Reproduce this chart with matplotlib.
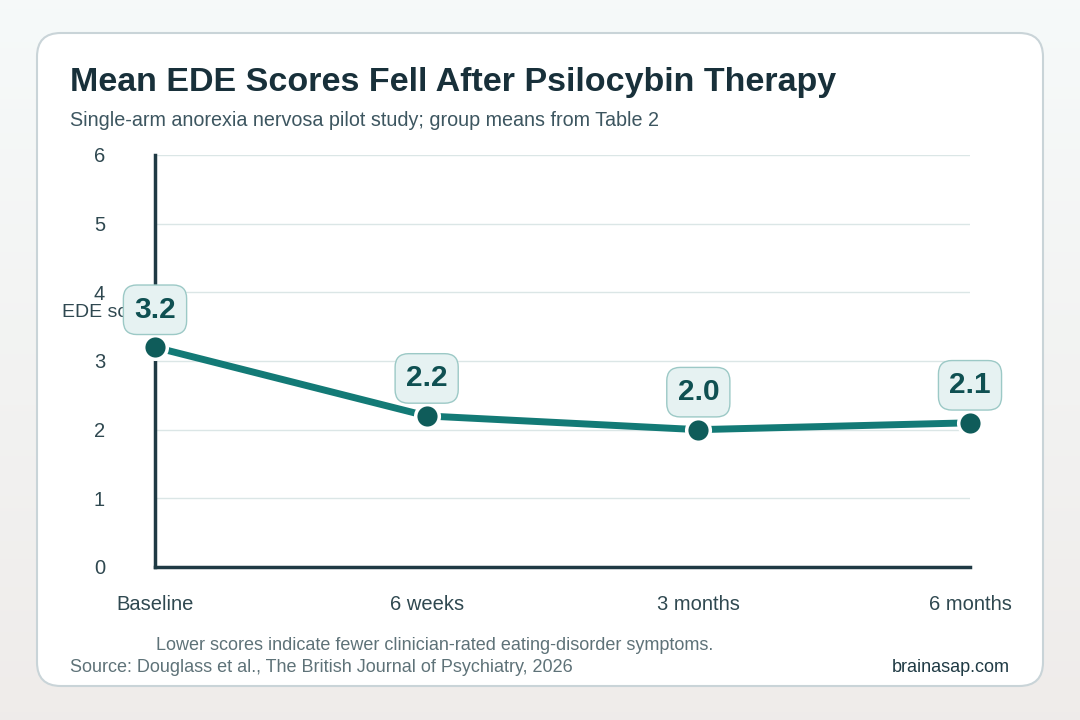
import numpy as np
import matplotlib.pyplot as plt
from matplotlib.patches import FancyBboxPatch

# Datos
etapas = ['Baseline', '6 weeks', '3 months', '6 months']
puntajes = [3.2, 2.2, 2.0, 2.1]
etiquetas = ['3.2', '2.2', '2.0', '2.1']
ticksY = [0, 1, 2, 3, 4, 5, 6]

plt.rcParams['font.family'] = ['Liberation Sans', 'DejaVu Sans']

fig = plt.figure(figsize=(10.8, 7.2), dpi=100)

# fondo con degradado
fondo = fig.add_axes([0, 0, 1, 1], zorder=-10)
grad = np.linspace(0, 1, 256).reshape(-1, 1)
c1 = np.array([0.965, 0.980, 0.980])
c2 = np.array([0.937, 0.925, 0.918])
img = c1 * (1 - grad[..., None]) + c2 * grad[..., None]
img = np.repeat(img, 2, axis=1)
fondo.imshow(img, aspect='auto', extent=[0, 1, 0, 1])
fondo.set_xlim(0, 1)
fondo.set_ylim(0, 1)
fondo.axis('off')

# tarjeta blanca
tarjeta = FancyBboxPatch((37 / 1080, 1 - 686 / 720), (1043 - 37) / 1080, (686 - 33) / 720,
                         boxstyle='round,pad=0,rounding_size=0.022',
                         transform=fig.transFigure, facecolor='white',
                         edgecolor='#c9d4d8', linewidth=1.5, mutation_aspect=1.5)
fondo.add_patch(tarjeta)

# textos
fig.text(70 / 1080, 1 - 82 / 720, 'Mean EDE Scores Fell After Psilocybin Therapy',
         fontsize=24.5, fontweight='bold', color='#18303a', va='center')
fig.text(70 / 1080, 1 - 120 / 720, 'Single-arm anorexia nervosa pilot study; group means from Table 2',
         fontsize=14.2, color='#3d5660', va='center')
fig.text(156 / 1080, 1 - 645 / 720, 'Lower scores indicate fewer clinician-rated eating-disorder symptoms.',
         fontsize=13, color='#5e7278', va='center')
fig.text(70 / 1080, 1 - 668 / 720, 'Source: Douglass et al., The British Journal of Psychiatry, 2026',
         fontsize=13, color='#5e7278', va='center')
fig.text(1010 / 1080, 1 - 668 / 720, 'brainasap.com',
         fontsize=13, color='#1f3a44', va='center', ha='right')

# ejes
ax = fig.add_axes([155 / 1080, 1 - 567 / 720, (970 - 155) / 1080, (567 - 155) / 720])
ax.set_facecolor('none')
x = np.arange(len(etapas))
ax.set_xlim(0, len(etapas) - 1)
ax.set_ylim(0, 6)
ax.set_yticks(ticksY)
ax.set_xticks(x)
ax.set_xticklabels(etapas)
ax.tick_params(axis='both', length=0, labelsize=14.5, labelcolor='#2f4850')
ax.tick_params(axis='y', pad=36)
ax.tick_params(axis='x', pad=20)
ax.grid(axis='y', color='#dbe6e6', linewidth=1)
for s in ['top', 'right']:
    ax.spines[s].set_visible(False)
ax.spines['left'].set_color('#1f3a44')
ax.spines['left'].set_linewidth(2.5)
ax.spines['bottom'].set_color('#1f3a44')
ax.spines['bottom'].set_linewidth(2.5)
ax.set_axisbelow(True)

# etiqueta del eje Y (queda parcialmente tapada por la caja de 3.2, como en la referencia)
ax.text(-0.114, 0.617, 'EDE score', transform=ax.transAxes, fontsize=14, color='#2f4850',
        ha='left', va='center', clip_on=False, zorder=1)

ax.plot(x, puntajes, color='#137a76', linewidth=5, zorder=3, clip_on=False)
ax.plot(x, puntajes, 'o', markersize=17, markerfacecolor='#0f5c5a',
        markeredgecolor='white', markeredgewidth=2.5, zorder=4, clip_on=False)

for xi, yi, et in zip(x, puntajes, etiquetas):
    ax.annotate(et, (xi, yi), xytext=(0, 27), textcoords='offset points',
                ha='center', va='center', fontsize=21.5, fontweight='bold', color='#0f5052',
                bbox=dict(boxstyle='round,pad=0.36,rounding_size=0.45', facecolor='#e6f2f2',
                          edgecolor='#9cc9c6', linewidth=1),
                zorder=6, annotation_clip=False)

fig.savefig('out.png', dpi=100)
